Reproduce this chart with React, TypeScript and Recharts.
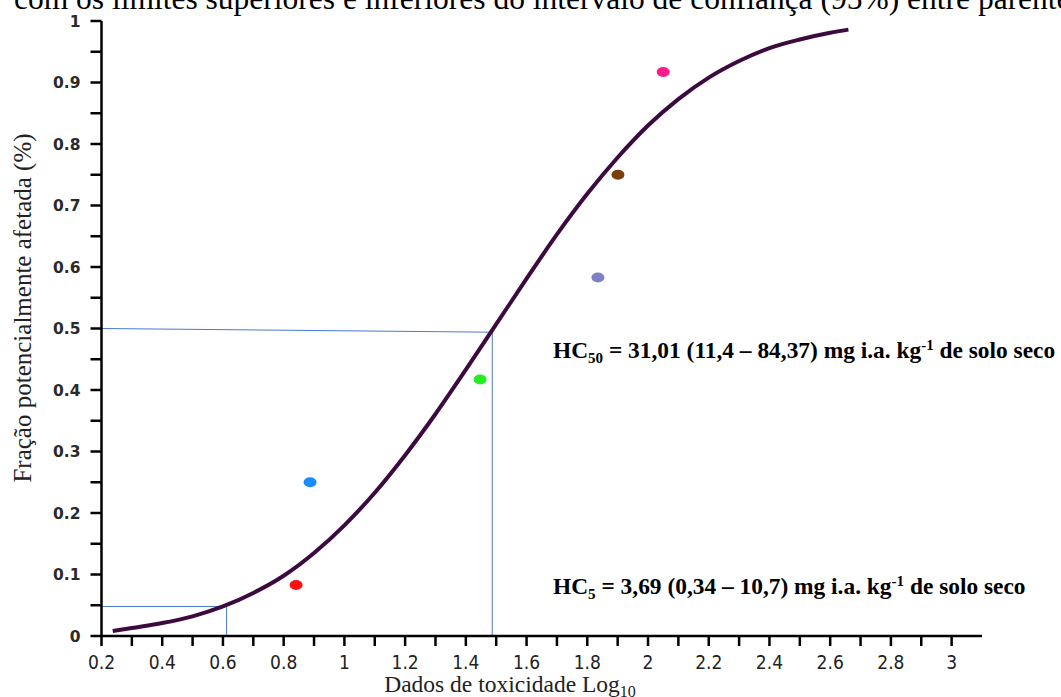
import React from "react";
import {
  ComposedChart,
  Line,
  Scatter,
  XAxis,
  YAxis,
  ReferenceLine,
  Customized,
} from "recharts";

// ---- data ----
const curveX = [0.237, 0.3, 0.4, 0.5, 0.6, 0.7, 0.8, 0.9, 1.0, 1.1, 1.2, 1.3, 1.4, 1.5, 1.6, 1.7, 1.8, 1.9, 2.0, 2.1, 2.2, 2.3, 2.4, 2.5, 2.6, 2.66];
const curveY = [0.008, 0.013, 0.021, 0.032, 0.048, 0.07, 0.098, 0.135, 0.18, 0.233, 0.294, 0.361, 0.433, 0.507, 0.581, 0.653, 0.719, 0.778, 0.83, 0.873, 0.908, 0.935, 0.956, 0.97, 0.981, 0.986];

const speciesX = [0.841, 0.887, 1.447, 1.835, 1.901, 2.05];
const speciesY = [0.083, 0.25, 0.417, 0.583, 0.75, 0.917];
const speciesColors = ["#ff1010", "#1a8cff", "#22ee22", "#8080c4", "#7a3f0a", "#ff1a8c"];

const xTicks = [0.2, 0.3, 0.4, 0.5, 0.6, 0.7, 0.8, 0.9, 1.0, 1.1, 1.2, 1.3, 1.4, 1.5, 1.6, 1.7, 1.8, 1.9, 2.0, 2.1, 2.2, 2.3, 2.4, 2.5, 2.6, 2.7, 2.8, 2.9, 3.0];
const xTickLabels = ["0.2", "", "0.4", "", "0.6", "", "0.8", "", "1", "", "1.2", "", "1.4", "", "1.6", "", "1.8", "", "2", "", "2.2", "", "2.4", "", "2.6", "", "2.8", "", "3"];
const yTicks = [0, 0.05, 0.1, 0.15, 0.2, 0.25, 0.3, 0.35, 0.4, 0.45, 0.5, 0.55, 0.6, 0.65, 0.7, 0.75, 0.8, 0.85, 0.9, 0.95, 1];
const yTickLabels = ["0", "", "0.1", "", "0.2", "", "0.3", "", "0.4", "", "0.5", "", "0.6", "", "0.7", "", "0.8", "", "0.9", "", "1"];

const hc50Guide = [{ x: 0.2, y: 0.5 }, { x: 1.487, y: 0.494 }];
const hc50Drop = [{ x: 1.487, y: 0.494 }, { x: 1.487, y: 0 }];
const hc5Guide = [{ x: 0.2, y: 0.048 }, { x: 0.612, y: 0.048 }];
const hc5Drop = [{ x: 0.612, y: 0.048 }, { x: 0.612, y: 0 }];

const curveData = curveX.map((x, i) => ({ x, y: curveY[i] }));
const pointData = speciesX.map((x, i) => ({ x, y: speciesY[i], color: speciesColors[i] }));

const GUIDE = "#4a78d4";
const SERIF = "'Liberation Serif', 'Times New Roman', serif";

const XTick = (props: any) => {
  const { x, index } = props;
  const label = xTickLabels[index];
  if (!label) return null;
  return (
    <text
      x={x}
      y={669}
      textAnchor="middle"
      fontFamily="'DejaVu Sans Condensed', 'DejaVu Sans', sans-serif"
      fontStretch="condensed"
      fontSize={19}
      fill="#222"
    >
      {label}
    </text>
  );
};

const YTick = (props: any) => {
  const { x, y, index } = props;
  const label = yTickLabels[index];
  if (!label) return null;
  return (
    <text
      x={x}
      y={y}
      dy="0.36em"
      textAnchor="end"
      fontFamily="'DejaVu Sans', sans-serif"
      fontWeight="bold"
      fontSize={15.5}
      fill="#2a2a2a"
    >
      {label}
    </text>
  );
};

const Dot = (props: any) => {
  const { cx, cy, payload } = props;
  return <ellipse cx={cx} cy={cy} rx={6.5} ry={5} fill={payload.color} />;
};

const Texts = () => (
  <g>
    <text x={14} y={9} fontFamily={SERIF} fontSize={31.5} fill="#000">
      com os limites superiores e inferiores do intervalo de confiança (95%) entre parenteses
    </text>
    <text x={510} y={692} textAnchor="middle" fontFamily={SERIF} fontSize={23.5} fill="#222">
      Dados de toxicidade Log
      <tspan fontSize={16} dy={5}>10</tspan>
    </text>
    <text
      transform="translate(31 308) rotate(-90)"
      textAnchor="middle"
      fontFamily={SERIF}
      fontSize={25}
      fill="#222"
    >
      Fração potencialmente afetada (%)
    </text>
    <text x={553} y={358} fontFamily={SERIF} fontWeight="bold" fontSize={23.4} fill="#000">
      HC<tspan fontSize={15} dy={5}>50</tspan>
      <tspan dy={-5}> = 31,01 (11,4 – 84,37) mg i.a. kg</tspan>
      <tspan fontSize={15} dy={-8}>-1</tspan>
      <tspan dy={8}> de solo seco</tspan>
    </text>
    <text x={553} y={594} fontFamily={SERIF} fontWeight="bold" fontSize={23.4} fill="#000">
      HC<tspan fontSize={15} dy={5}>5</tspan>
      <tspan dy={-5}> = 3,69 (0,34 – 10,7) mg i.a. kg</tspan>
      <tspan fontSize={15} dy={-8}>-1</tspan>
      <tspan dy={8}> de solo seco</tspan>
    </text>
  </g>
);

export default function App() {
  return (
    <div style={{ position: "absolute", left: 0, top: 0, width: 1061, height: 697, background: "#fff", overflow: "hidden" }}>
      <ComposedChart width={1061} height={697} margin={{ top: 21, right: 79, bottom: 0, left: 0 }}>
        <XAxis
          type="number"
          dataKey="x"
          domain={[0.2, 3.1]}
          ticks={xTicks}
          interval={0}
          allowDataOverflow
          height={61}
          tickSize={10}
          axisLine={{ stroke: "#000", strokeWidth: 2.5 }}
          tickLine={{ stroke: "#000", strokeWidth: 2.5 }}
          tick={<XTick />}
        />
        <YAxis
          type="number"
          dataKey="y"
          domain={[0, 1]}
          ticks={yTicks}
          interval={0}
          width={101.5}
          tickSize={11}
          tickMargin={10}
          axisLine={{ stroke: "#000", strokeWidth: 2.5 }}
          tickLine={{ stroke: "#000", strokeWidth: 2.5 }}
          tick={<YTick />}
        />
        <ReferenceLine segment={hc50Guide} stroke={GUIDE} strokeWidth={1} ifOverflow="visible" />
        <ReferenceLine segment={hc50Drop} stroke={GUIDE} strokeWidth={1} ifOverflow="visible" />
        <ReferenceLine segment={hc5Guide} stroke={GUIDE} strokeWidth={1} ifOverflow="visible" />
        <ReferenceLine segment={hc5Drop} stroke={GUIDE} strokeWidth={1} ifOverflow="visible" />
        <Line
          data={curveData}
          dataKey="y"
          type="monotone"
          stroke="#3d0a40"
          strokeWidth={4}
          dot={false}
          activeDot={false}
          isAnimationActive={false}
        />
        <Scatter data={pointData} dataKey="y" shape={<Dot />} isAnimationActive={false} />
        <Customized component={Texts} />
      </ComposedChart>
    </div>
  );
}
